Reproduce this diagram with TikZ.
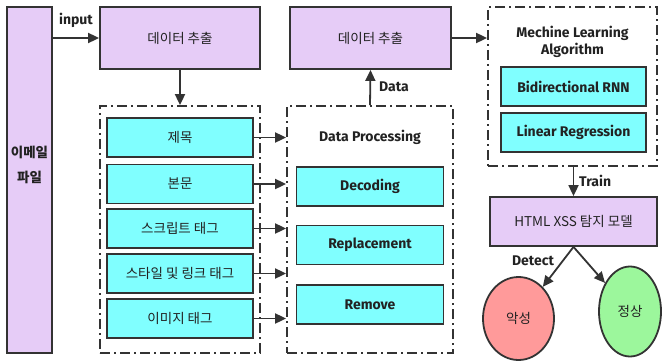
\documentclass[tikz,border=0pt]{standalone}
\usepackage{fontspec}
\setmainfont{Noto Sans CJK KR}
\newfontfamily\en{Fira Sans}
\usetikzlibrary{arrows.meta,shapes.geometric}
\definecolor{lav}{HTML}{E6CCF7}
\definecolor{cyanf}{HTML}{80FFFF}
\definecolor{edge}{HTML}{333333}
\definecolor{txt}{HTML}{222222}
\definecolor{redf}{HTML}{FF9A9A}
\definecolor{greenf}{HTML}{9CF79C}
\tikzset{
  x=1pt,y=-1pt,
  every node/.style={text=txt,font=\fontsize{13.5}{15}\selectfont,inner sep=0pt},
  lavbox/.style={draw=edge,line width=1.8pt,fill=lav,rectangle},
  cybox/.style={draw=edge,line width=1.8pt,fill=cyanf,rectangle,minimum width=146pt,minimum height=39pt},
  group/.style={draw=edge,line width=1.8pt,dash pattern=on 10pt off 4pt on 2pt off 4pt,rectangle},
  arr/.style={draw=edge,line width=1.8pt,-{Triangle[length=11pt,width=10pt]}},
  lbl/.style={font=\en\bfseries\fontsize{14}{17}\selectfont},
}
\begin{document}
\begin{tikzpicture}
\useasboundingbox (0,0) rectangle (663,361);
% left email box
\node[lavbox,minimum width=45pt,minimum height=346pt] (email) at (29.5,180) {};
\node[font=\bfseries\fontsize{13.5}{25}\selectfont,align=center] (emailt) at (29.5,165) {이메일\\파일};
% box1
\node[lavbox,minimum width=160pt,minimum height=62pt] (ext1) at (180,38) {데이터 추출};
% group1
\node[group,minimum width=160pt,minimum height=247pt] (g1) at (180,229.5) {};
\node[cybox] (c1) at (180,137.5) {제목};
\node[cybox] (c2) at (180,184) {본문};
\node[cybox] (c3) at (180,228.5) {스크립트 태그};
\node[cybox] (c4) at (180,273.5) {스타일 및 링크 태그};
\node[cybox] (c5) at (180,318.5) {이미지 태그};
% data processing group
\node[group,minimum width=166pt,minimum height=247pt] (dp) at (370,229.5) {};
\node[lbl] (dpt) at (370,137) {Data Processing};
\node[cybox,minimum width=147pt,lbl] (d1) at (370,186.5) {Decoding};
\node[cybox,minimum width=147pt,lbl] (d2) at (370,245) {Replacement};
\node[cybox,minimum width=147pt,lbl] (d3) at (370,304.5) {Remove};
% box2
\node[lavbox,minimum width=161pt,minimum height=62pt] (ext2) at (370.5,38) {데이터 추출};
% ML group
\node[group,minimum width=169pt,minimum height=159pt] (ml) at (572.5,86.5) {};
\node[lbl,align=center] (mlt) at (572.5,42) {Mechine Learning\\Algorithm};
\node[cybox,minimum width=145pt,lbl] (m1) at (573.5,86.5) {Bidirectional RNN};
\node[cybox,minimum width=145pt,lbl] (m2) at (573.5,132.5) {Linear Regression};
% HTML model
\node[lavbox,minimum width=167pt,minimum height=49pt] (html) at (573.5,221.5) {HTML XSS 탐지 모델};
% ellipses
\node[ellipse,draw=edge,line width=1.8pt,fill=redf,minimum width=71pt,minimum height=83pt] (bad) at (518.5,318.5) {악성};
\node[ellipse,draw=edge,line width=1.8pt,fill=greenf,minimum width=62pt,minimum height=90pt] (good) at (630,311.5) {정상};
% arrows
\draw[arr] (ext1.west -| email.east) -- (ext1.west);
\node[lbl] (inp) at (76,20) {input};
\draw[arr] (ext1.south) -- (g1.north);
\foreach \c in {c1,c2,c3,c4,c5}{\draw[arr] (\c.east) -- (\c.east -| dp.west);}
\draw[arr] (dp.north) -- (ext2.south);
\node[lbl,anchor=west] (datal) at (379,87) {Data};
\draw[arr] (ext2.east) -- (ext2.east -| ml.west);
\draw[arr] (ml.south -| html.north) -- (html.north);
\node[lbl,anchor=west] (trainl) at (579,181) {Train};
\draw[arr] (html.south) -- (bad);
\draw[arr] (html.south) -- (good);
\node[lbl] (detl) at (533,261) {Detect};
\end{tikzpicture}
\end{document}
